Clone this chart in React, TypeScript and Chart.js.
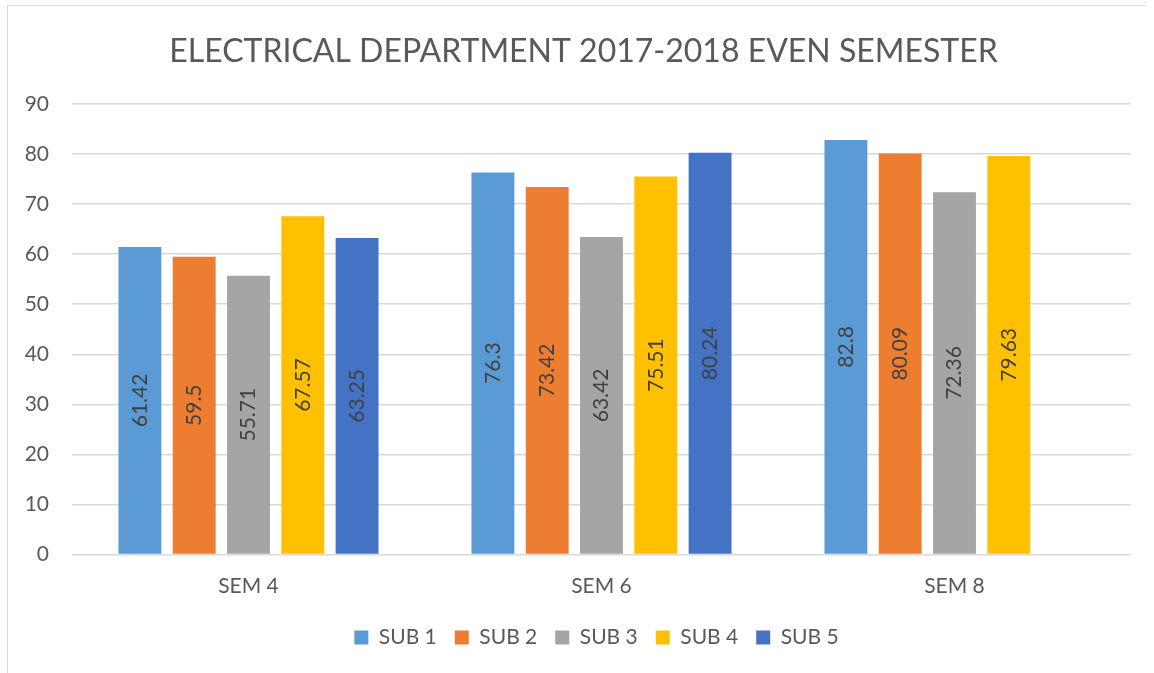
import React, { useEffect, useRef } from "react";
import { Chart, registerables } from "chart.js";

Chart.register(...registerables);

const categories = ["SEM 4", "SEM 6", "SEM 8"];
const seriesNames = ["SUB 1", "SUB 2", "SUB 3", "SUB 4", "SUB 5"];
const sub1 = [61.42, 76.3, 82.8];
const sub2 = [59.5, 73.42, 80.09];
const sub3 = [55.71, 63.42, 72.36];
const sub4 = [67.57, 75.51, 79.63];
const sub5: (number | null)[] = [63.25, 80.24, null];
const colors = ["#5B9BD5", "#ED7D31", "#A5A5A5", "#FFC000", "#4472C4"];
const yTicks = { min: 0, max: 90, step: 10 };
const title = "ELECTRICAL DEPARTMENT 2017-2018 EVEN SEMESTER";

const FONT = "Lato, 'Open Sans', sans-serif";
const TEXT = "#595959";

const barLabels = {
  id: "barLabels",
  afterDatasetsDraw(chart: any) {
    const ctx = chart.ctx;
    ctx.save();
    ctx.fillStyle = "#404040";
    ctx.font = `21px ${FONT}`;
    ctx.textAlign = "center";
    ctx.textBaseline = "middle";
    chart.data.datasets.forEach((ds: any, di: number) => {
      const meta = chart.getDatasetMeta(di);
      meta.data.forEach((bar: any, i: number) => {
        const v = ds.data[i];
        if (v === null || v === undefined) return;
        const cy = (bar.y + bar.base) / 2;
        ctx.save();
        ctx.translate(bar.x, cy);
        ctx.rotate(-Math.PI / 2);
        ctx.fillText(String(v), 0, 0);
        ctx.restore();
      });
    });
    ctx.restore();
  },
};

// The source chart is centred on a slightly wider frame than the plot, so
// nudge the title and legend blocks to the right after layout.
const shiftBlocks = {
  id: "shiftBlocks",
  afterLayout(chart: any) {
    if (chart.titleBlock) {
      chart.titleBlock.left += 18;
      chart.titleBlock.right += 18;
    }
    if (chart.legend) {
      chart.legend.left += 31;
      chart.legend.right += 31;
    }
  },
};

export default function App() {
  const ref = useRef<HTMLCanvasElement>(null);
  useEffect(() => {
    document.body.style.margin = "0";
    const allSeries = [sub1, sub2, sub3, sub4, sub5];
    const chart = new Chart(ref.current!, {
      type: "bar",
      data: {
        labels: categories,
        datasets: allSeries.map((d, i) => ({
          label: seriesNames[i],
          data: d,
          backgroundColor: colors[i],
          borderWidth: 0,
          categoryPercentage: 0.769,
          barPercentage: 0.79,
        })),
      },
      options: {
        animation: false,
        responsive: false,
        maintainAspectRatio: false,
        layout: { padding: { left: 0, right: 23, top: 0, bottom: 15 } },
        plugins: {
          title: {
            display: true,
            text: title,
            color: TEXT,
            font: { family: FONT, size: 32, weight: "normal" },
            padding: { top: 32.3, bottom: 33.3 },
          },
          legend: {
            position: "bottom",
            labels: {
              color: TEXT,
              font: { family: FONT, size: 21 },
              boxWidth: 14,
              boxHeight: 14,
              padding: 18,
            },
          },
          tooltip: { enabled: false },
        },
        scales: {
          x: {
            grid: { display: false, drawTicks: false },
            border: { display: false },
            ticks: { color: TEXT, font: { family: FONT, size: 21 }, padding: 19.4 },
            afterFit(scale: any) {
              scale.height = 54.5;
            },
          },
          y: {
            min: yTicks.min,
            max: yTicks.max,
            grid: { color: "#d9d9d9", lineWidth: 1.5, drawTicks: false },
            border: { display: false },
            ticks: {
              stepSize: yTicks.step,
              color: TEXT,
              font: { family: FONT, size: 21 },
              padding: 23,
            },
            afterFit(scale: any) {
              scale.width = 72;
            },
          },
        },
      },
      plugins: [barLabels, shiftBlocks],
    });
    return () => chart.destroy();
  }, []);
  return (
    <div style={{ position: "relative", width: 1154, height: 673, overflow: "hidden", background: "#fff" }}>
      <div
        style={{
          position: "absolute",
          left: 7,
          top: 5,
          width: 1138,
          height: 700,
          borderLeft: "1px solid #d9d9d9",
          borderTop: "1px solid #d9d9d9",
        }}
      />
      <canvas ref={ref} width={1154} height={673} style={{ position: "absolute", left: 0, top: 0 }} />
    </div>
  );
}
